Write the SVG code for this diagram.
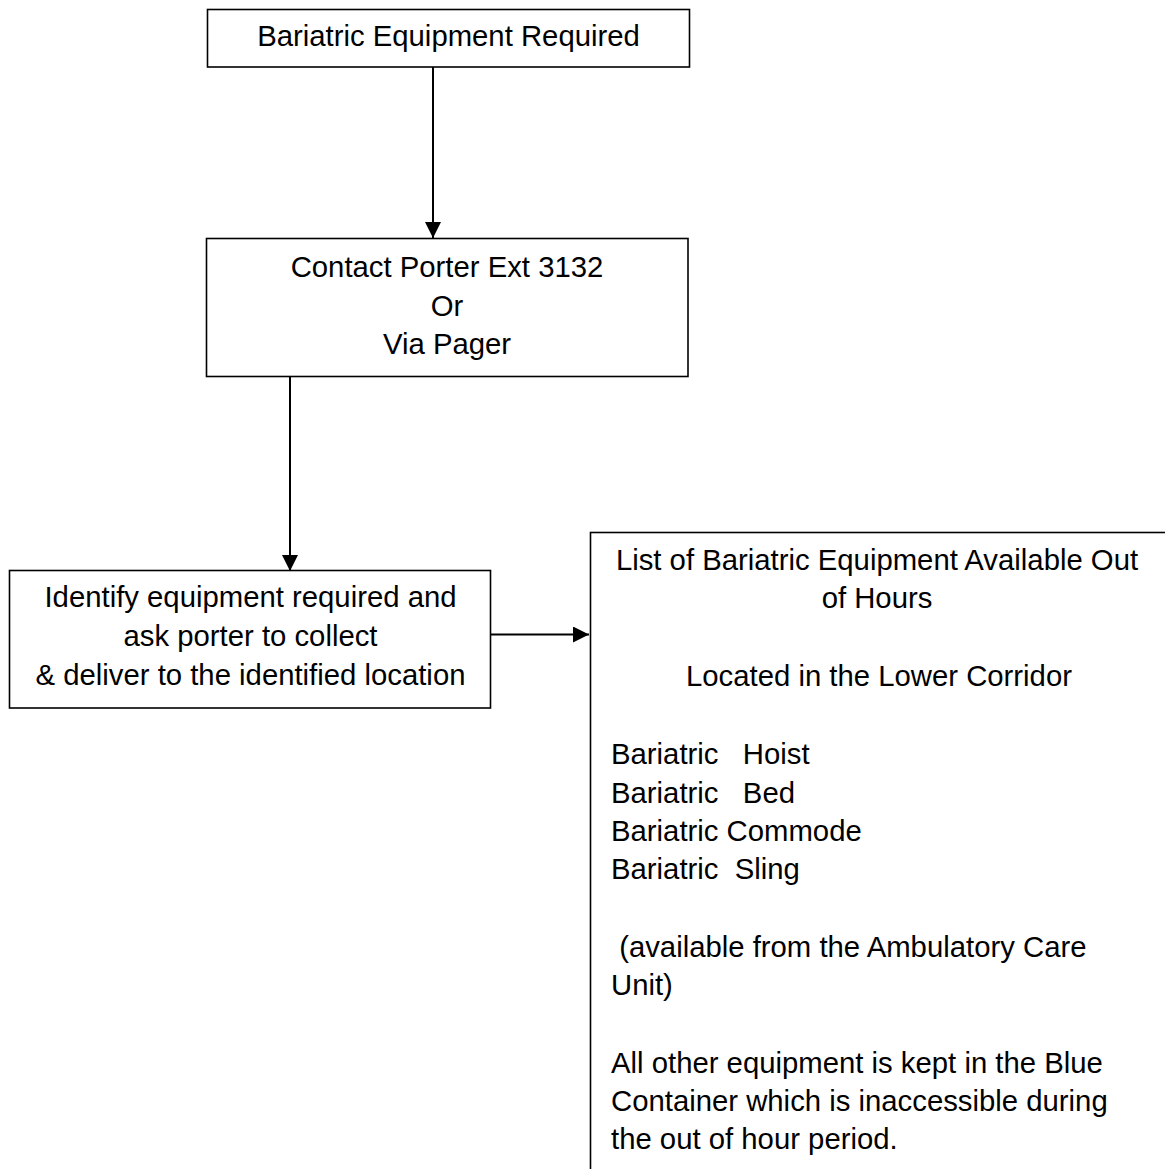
<svg xmlns="http://www.w3.org/2000/svg" width="1165" height="1169" viewBox="0 0 1165 1169">
<style>
.box{fill:#fff;stroke:#000;stroke-width:1.6}
.t{font-family:"Liberation Sans",Arial,sans-serif;font-size:29.3px;fill:#000}
.c{text-anchor:middle}
.ln{stroke:#000;stroke-width:2;fill:none}
</style>
<defs>
<marker id="ah" markerWidth="8" markerHeight="8" refX="8" refY="4" orient="auto" markerUnits="userSpaceOnUse" viewBox="0 0 8 8">
<path d="M0,0 L8,4 L0,8 z" fill="#000"/>
</marker>
<marker id="ah2" markerWidth="16" markerHeight="16" refX="16" refY="8" orient="auto" markerUnits="userSpaceOnUse" viewBox="0 0 16 16">
<path d="M0,0 L16,8 L0,16 z" fill="#000"/>
</marker>
</defs>
<rect width="1165" height="1169" fill="#fff"/>
<g id="connectors">
<line class="ln" x1="433" y1="67" x2="433" y2="238" marker-end="url(#ah2)"/>
<line class="ln" x1="290" y1="376" x2="290" y2="571" marker-end="url(#ah2)"/>
<line class="ln" x1="491" y1="634.5" x2="589" y2="634.5" marker-end="url(#ah2)"/>
</g>
<g id="node-required">
<rect class="box" x="207.5" y="9.5" width="482" height="57.5"/>
<text class="t c" x="448.5" y="45.7">Bariatric Equipment Required</text>
</g>
<g id="node-contact">
<rect class="box" x="206.5" y="238.5" width="481.5" height="138"/>
<text class="t c" x="447" y="277">Contact Porter Ext 3132</text>
<text class="t c" x="447" y="316">Or</text>
<text class="t c" x="447" y="353.5">Via Pager</text>
</g>
<g id="node-identify">
<rect class="box" x="9.5" y="570.5" width="481" height="137.5"/>
<text class="t c" x="250.5" y="607">Identify equipment required and</text>
<text class="t c" x="250.5" y="646">ask porter to collect</text>
<text class="t c" x="250.5" y="685">&amp; deliver to the identified location</text>
</g>
<g id="node-list">
<rect class="box" x="590.5" y="532.5" width="700" height="700"/>
<text class="t c" x="877" y="569.5">List of Bariatric Equipment Available Out</text>
<text class="t c" x="877" y="607.8">of Hours</text>
<text class="t c" x="879" y="686">Located in the Lower Corridor</text>
<text class="t" x="611" y="764.3" xml:space="preserve">Bariatric   Hoist</text>
<text class="t" x="611" y="802.7" xml:space="preserve">Bariatric   Bed</text>
<text class="t" x="611" y="841">Bariatric Commode</text>
<text class="t" x="611" y="879.3" xml:space="preserve">Bariatric  Sling</text>
<text class="t" x="611" y="956.7" xml:space="preserve"> (available from the Ambulatory Care</text>
<text class="t" x="611" y="995">Unit)</text>
<text class="t" x="611" y="1072.5">All other equipment is kept in the Blue</text>
<text class="t" x="611" y="1110.8">Container which is inaccessible during</text>
<text class="t" x="611" y="1149">the out of hour period.</text>
</g>
</svg>
